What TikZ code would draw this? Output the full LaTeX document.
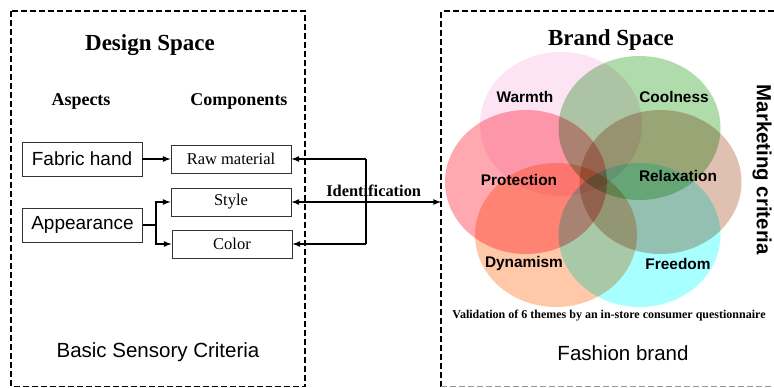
\documentclass[tikz,border=0pt]{standalone}
\usepackage{fontspec}
\setmainfont{Liberation Serif}
\setsansfont{Liberation Sans}
\definecolor{warmth}{HTML}{FCE4F4}
\definecolor{coolness}{HTML}{B0DCAC}
\definecolor{protection}{HTML}{FFA8B0}
\definecolor{relaxation}{HTML}{E0C0B0}
\definecolor{dynamism}{HTML}{FFC8A8}
\definecolor{freedom}{HTML}{A8FFFF}
\begin{document}
\begin{tikzpicture}[x=1pt,y=-1pt]
  \tikzstyle{space}=[draw=black,line width=1.3pt,dash pattern=on 6pt off 3pt]
  \tikzstyle{title}=[font=\fontsize{23}{26}\selectfont\bfseries]
  \tikzstyle{head}=[font=\fontsize{18}{20}\selectfont\bfseries]
  \tikzstyle{aspect}=[draw=black!80,line width=0.9pt,minimum width=120pt,minimum height=34pt,inner sep=0pt,font=\sffamily\fontsize{19}{21}\selectfont]
  \tikzstyle{component}=[draw=black!80,line width=0.9pt,minimum width=120pt,minimum height=28pt,inner sep=0pt,font=\fontsize{16.5}{18}\selectfont]
  \tikzstyle{link}=[draw,line width=1.6pt]
  \tikzstyle{edge}=[link,->,>=latex]
  \tikzstyle{theme}=[font=\sffamily\bfseries\fontsize{15.4}{17}\selectfont]
  \tikzstyle{criteria}=[font=\sffamily\fontsize{20.5}{23}\selectfont]
  \useasboundingbox (0,0) rectangle (774,388);

  % the two spaces
  \draw[space] (11,11) rectangle (305,386.5);
  \draw[space] (441,386.5) -- (441,11) -- (790,11);
  \draw[space,draw=black!40] (441,386.5) -- (790,386.5);

  % design space
  \node [title] (design) at (150,45) {Design Space};
  \node [head] (aspects) at (81,101) {Aspects};
  \node [head] (components) at (239,101) {Components};
  \node [aspect] (fabric) at (82,159) {Fabric hand};
  \node [aspect] (appear) at (82.5,225) {Appearance};
  \node [component] (raw) at (231,159) {Raw material};
  \node [component] (sty) at (231,202) {Style};
  \node [component] (col) at (232,244) {Color};
  \node [criteria] (basic) at (158,352) {Basic Sensory Criteria};

  \path[edge] (fabric) -- (raw);
  \coordinate (split) at (156,225);
  \path[link] (appear) -- (split);
  \path[edge] (split) |- (sty.west);
  \path[edge] (split) |- (col.west);

  % identification links
  \coordinate (rtop) at (366,159);
  \coordinate (rbot) at (366,244);
  \coordinate (ident) at (441,202);
  \path[link] (rtop) -- (rbot);
  \path[edge] (rtop) -- (raw.east);
  \path[edge] (rbot) -- (col.east);
  \path[edge,<->] (sty.east) -- (ident) node[pos=0.55,above=1pt,font=\fontsize{16.4}{18}\selectfont\bfseries] {Identification};

  % brand space
  \begin{scope}[blend group=multiply]
    \fill[warmth] (561,124) ellipse [x radius=81pt, y radius=72pt];
    \fill[coolness] (639.5,128) ellipse [x radius=81pt, y radius=72pt];
    \fill[protection] (526,182) ellipse [x radius=81pt, y radius=72pt];
    \fill[relaxation] (660.5,182) ellipse [x radius=81pt, y radius=72pt];
    \fill[dynamism] (556,235) ellipse [x radius=81pt, y radius=72pt];
    \fill[freedom] (639.5,235) ellipse [x radius=81pt, y radius=72pt];
  \end{scope}
  \node [title] (brand) at (611,40) {Brand Space};
  \node [theme] (warm) at (525,97) {Warmth};
  \node [theme] (cool) at (674,97) {Coolness};
  \node [theme] (prot) at (519,180) {Protection};
  \node [theme] (relax) at (678,176) {Relaxation};
  \node [theme] (dyn) at (524,264) {Dynamism};
  \node [theme] (free) at (678,264) {Freedom};
  \node [font=\fontsize{12}{14}\selectfont\bfseries] (valid) at (609,316) {Validation of 6 themes by an in-store consumer questionnaire};
  \node [criteria] (fashion) at (623,353) {Fashion brand};
  \node [rotate=-90,font=\sffamily\bfseries\fontsize{20.4}{23}\selectfont] (market) at (762,170) {Marketing criteria};
\end{tikzpicture}
\end{document}
